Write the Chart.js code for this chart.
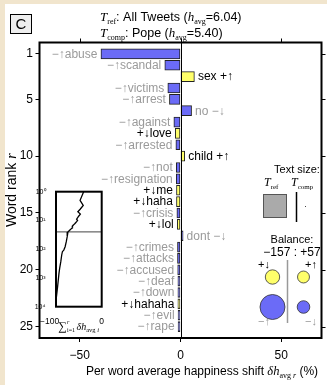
<!DOCTYPE html>
<html>
<head>
<meta charset="utf-8">
<script src="https://cdn.jsdelivr.net/npm/chart.js@4.4.1/dist/chart.umd.min.js"></script>
<style>
  html, body { margin: 0; padding: 0; }
  body { width: 327px; height: 385px; background: #f1e5cd; position: relative; overflow: hidden; }
  #panel { position: absolute; left: 5px; top: 4px; right: 0; bottom: 0; background: #fff; }
  #main { position: absolute; left: 0; top: 0; }
  #inset { position: absolute; left: 30px; top: 183px; }
</style>
</head>
<body>
<div id="panel"></div>
<canvas id="main" width="327" height="385"></canvas>
<canvas id="inset" width="85" height="157"></canvas>
<script>
// Dados
const words = ['abuse', 'scandal', 'sex', 'victims', 'arrest', 'no', 'against', 'love', 'arrested', 'child',
  'not', 'resignation', 'me', 'haha', 'crisis', 'lol', 'dont', 'crimes', 'attacks', 'accused',
  'deaf', 'down', 'hahaha', 'evil', 'rape'];
const shifts = [-39.5, -7.8, 6.9, -6.3, -5.5, 5.5, -3.3, -2.6, -2.3, 2.1,
  -2.1, -2.1, -2.0, -2.0, -1.8, -1.6, 1.3, -1.5, -1.5, -1.4,
  -1.3, -1.3, -1.3, -1.2, -1.2];
// '+' = palavra mais feliz que a média (amarelo), '-' = menos feliz (azul)
const wordKind = ['-', '-', '+', '-', '-', '-', '-', '+', '-', '+',
  '-', '-', '+', '+', '-', '+', '-', '-', '-', '-',
  '-', '-', '+', '-', '-'];
const rankTicks = [1, 5, 10, 15, 20, 25];
const shiftTicks = [-50, 0, 50];

// Inset: soma acumulada além das 25 palavras
const tailRanks = [37, 55, 82, 107, 122, 159, 272, 466, 692, 2000, 4470];
const tailCum = [-75.5, -77.5, -80, -83, -86, -87.5, -89.5, -92, -93.5, -96.5, -99];
const insetRankTicks = [1, 10, 100, 1000, 10000];
const insetShiftTicks = [-100, 0];

// Balanço: +↓, −↑, +↑, −↓
const balanceValues = [-39, -118, 27, 30];
const hRef = 6.04, hComp = 5.40;

const SANS = '"Liberation Sans", Arial, sans-serif';
const SERIF = '"Liberation Serif", "DejaVu Serif", serif';
const BLUE = '#6b6bf7';
const YELLOW = '#ffff6a';
const GRAY = '#9a9a9a';

function minus(v) {
    return v < 0 ? '\u2212' + Math.abs(v) : String(v);
}

// Desenha texto com partes em fontes diferentes (subscritos etc.)
function drawRich(ctx, x, y, parts, align) {
    let w = 0;
    parts.forEach(p => { ctx.font = p[1]; w += ctx.measureText(p[0]).width; });
    let cx = align === 'center' ? x - w / 2 : (align === 'right' ? x - w : x);
    ctx.textAlign = 'left';
    ctx.textBaseline = 'alphabetic';
    parts.forEach(p => {
        ctx.font = p[1];
        ctx.fillText(p[0], cx, y + (p[2] || 0));
        cx += ctx.measureText(p[0]).width;
    });
}

function wordLabel(i) {
    const v = shifts[i];
    if (wordKind[i] === '-') {
        return v < 0 ? '\u2212\u2191' + words[i] : words[i] + ' \u2212\u2193';
    }
    return v < 0 ? '+\u2193' + words[i] : words[i] + ' +\u2191';
}

// Moldura, traços de topo/direita e linha do zero
const framePlugin = {
    id: 'frame',
    afterDraw(chart) {
        const { ctx, chartArea: a, scales } = chart;
        ctx.save();
        ctx.strokeStyle = '#000';
        ctx.lineWidth = 1;
        const x0 = Math.round(scales.x.getPixelForValue(0)) + 0.5;
        ctx.beginPath();
        ctx.moveTo(x0, a.top);
        ctx.lineTo(x0, a.bottom);
        shiftTicks.forEach(v => {
            const px = Math.round(scales.x.getPixelForValue(v)) + 0.5;
            ctx.moveTo(px, a.top);
            ctx.lineTo(px, a.top - 4);
        });
        rankTicks.forEach(v => {
            const py = Math.round(scales.y.getPixelForValue(v)) + 0.5;
            ctx.moveTo(a.right, py);
            ctx.lineTo(a.right + 4, py);
        });
        ctx.stroke();
        ctx.lineWidth = 2;
        ctx.strokeRect(a.left, a.top, a.right - a.left, a.bottom - a.top);
        ctx.restore();
    }
};

// Rótulos das palavras nas pontas das barras
const labelPlugin = {
    id: 'wordLabels',
    afterDatasetsDraw(chart) {
        const ctx = chart.ctx;
        const meta = chart.getDatasetMeta(0);
        ctx.save();
        ctx.font = '12px ' + SANS;
        ctx.textBaseline = 'middle';
        meta.data.forEach((bar, i) => {
            ctx.fillStyle = wordKind[i] === '-' ? GRAY : '#000';
            if (shifts[i] < 0) {
                ctx.textAlign = 'right';
                ctx.fillText(wordLabel(i), bar.x - 3.5, bar.y + 0.5);
            } else {
                ctx.textAlign = 'left';
                ctx.fillText(wordLabel(i), bar.x + 3.5, bar.y + 0.5);
            }
        });
        ctx.restore();
    }
};

// Título, letra do painel e títulos dos eixos
const titlePlugin = {
    id: 'titles',
    afterDraw(chart) {
        const { ctx, chartArea: a } = chart;
        ctx.save();
        ctx.fillStyle = '#000';
        drawRich(ctx, 100, 20.5, [
            ['T', 'italic 13px ' + SERIF], ['ref', '8px ' + SERIF, 3],
            [': All Tweets (', '12.5px ' + SANS],
            ['h', 'italic 13px ' + SERIF], ['avg', '8px ' + SERIF, 3],
            ['=' + hRef.toFixed(2) + ')', '12.5px ' + SANS]
        ], 'left');
        drawRich(ctx, 100, 36.5, [
            ['T', 'italic 13px ' + SERIF], ['comp', '8px ' + SERIF, 3],
            [': Pope (', '12.5px ' + SANS],
            ['h', 'italic 13px ' + SERIF], ['avg', '8px ' + SERIF, 3],
            ['=' + hComp.toFixed(2) + ')', '12.5px ' + SANS]
        ], 'left');

        // letra do painel
        ctx.fillStyle = '#eeeeee';
        ctx.fillRect(10.5, 14.5, 21, 19);
        ctx.strokeStyle = '#000';
        ctx.lineWidth = 1;
        ctx.strokeRect(10.5, 14.5, 21, 19);
        ctx.fillStyle = '#000';
        ctx.font = '15px ' + SANS;
        ctx.textAlign = 'center';
        ctx.textBaseline = 'middle';
        ctx.fillText('C', 21, 24.5);

        // eixo y
        ctx.save();
        ctx.translate(16, (a.top + a.bottom) / 2);
        ctx.rotate(-Math.PI / 2);
        drawRich(ctx, 0, 0, [['Word rank ', '14px ' + SANS], ['r', 'italic 14px ' + SERIF]], 'center');
        ctx.restore();

        // eixo x
        drawRich(ctx, 202, 375, [
            ['Per word average happiness shift ', '12px ' + SANS],
            ['\u03B4h', 'italic 12.5px ' + SERIF],
            ['avg', '8px ' + SERIF, 3], [' r', 'italic 8px ' + SERIF, 3],
            [' (%)', '12px ' + SANS]
        ], 'center');
        ctx.restore();
    }
};

// Caixa de tamanho de texto e balanço
const keyPlugin = {
    id: 'keyPanel',
    afterDraw(chart) {
        const ctx = chart.ctx;
        ctx.save();
        ctx.fillStyle = '#000';
        ctx.font = '11px ' + SANS;
        ctx.textAlign = 'center';
        ctx.textBaseline = 'middle';
        ctx.fillText('Text size:', 297, 170);
        drawRich(ctx, 264, 186, [['T', 'italic 12px ' + SERIF], ['ref', '7px ' + SERIF, 2.5]], 'left');
        drawRich(ctx, 291, 186, [['T', 'italic 12px ' + SERIF], ['comp', '7px ' + SERIF, 2.5]], 'left');

        ctx.fillStyle = '#aaaaaa';
        ctx.fillRect(263.5, 194.5, 23, 23);
        ctx.strokeStyle = '#555';
        ctx.lineWidth = 1;
        ctx.strokeRect(263.5, 194.5, 23, 23);
        ctx.strokeStyle = '#000';
        ctx.lineWidth = 1.5;
        ctx.beginPath();
        ctx.moveTo(296.5, 192);
        ctx.lineTo(296.5, 222);
        ctx.stroke();
        ctx.fillStyle = '#444';
        ctx.fillRect(305, 206, 1, 1);

        const neg = balanceValues.filter(v => v < 0).reduce((s, v) => s + v, 0);
        const pos = balanceValues.filter(v => v > 0).reduce((s, v) => s + v, 0);
        ctx.fillStyle = '#000';
        ctx.font = '11px ' + SANS;
        ctx.textAlign = 'center';
        ctx.textBaseline = 'middle';
        ctx.fillText('Balance:', 292, 239.5);
        ctx.font = '12px ' + SANS;
        ctx.fillText(minus(neg) + ' : +' + pos, 292, 253);

        ctx.font = '11px ' + SANS;
        ctx.fillText('+\u2193', 264, 265);
        ctx.fillText('+\u2191', 311, 265);
        ctx.fillStyle = GRAY;
        ctx.fillText('\u2212\u2191', 264, 322);
        ctx.fillText('\u2212\u2193', 311, 322);

        ctx.strokeStyle = '#999';
        ctx.lineWidth = 1.5;
        ctx.beginPath();
        ctx.moveTo(287.5, 260);
        ctx.lineTo(287.5, 323);
        ctx.stroke();

        // círculos com área proporcional ao valor
        const spots = [[272.5, 277], [272.5, 307], [303.5, 277], [303.5, 307]];
        const fills = [YELLOW, BLUE, YELLOW, BLUE];
        balanceValues.forEach((v, i) => {
            const r = 1.15 * Math.sqrt(Math.abs(v));
            ctx.beginPath();
            ctx.arc(spots[i][0], spots[i][1], r, 0, Math.PI * 2);
            ctx.fillStyle = fills[i];
            ctx.fill();
            ctx.strokeStyle = '#333';
            ctx.lineWidth = 0.8;
            ctx.stroke();
        });
        ctx.restore();
    }
};

new Chart(document.getElementById('main'), {
    type: 'bar',
    data: {
        datasets: [{
            data: words.map((w, i) => ({ x: shifts[i], y: i + 1 })),
            backgroundColor: wordKind.map(k => k === '+' ? YELLOW : BLUE),
            borderColor: '#222',
            borderWidth: 1,
            borderSkipped: false,
            barThickness: 10
        }]
    },
    options: {
        indexAxis: 'y',
        responsive: false,
        animation: false,
        layout: { padding: { left: 5.5, top: 42.5, right: 5.5, bottom: 0 } },
        scales: {
            x: {
                type: 'linear', min: -70, max: 70,
                afterBuildTicks: s => { s.ticks = shiftTicks.map(v => ({ value: v })); },
                afterFit: s => { s.height = 47; },
                grid: { drawOnChartArea: false, tickLength: 4, color: '#000' },
                border: { display: false },
                ticks: { color: '#000', padding: 6, font: { family: SANS, size: 12 }, callback: v => minus(v) }
            },
            y: {
                type: 'linear', min: 0, max: 26, reverse: true, offset: false,
                afterBuildTicks: s => { s.ticks = rankTicks.map(v => ({ value: v })); },
                afterFit: s => { s.width = 34; },
                grid: { drawOnChartArea: false, offset: false, tickLength: 4, color: '#000' },
                border: { display: false },
                ticks: { color: '#000', padding: 2.5, font: { family: SANS, size: 12 } }
            }
        },
        plugins: { legend: { display: false }, tooltip: { enabled: false } }
    },
    plugins: [framePlugin, labelPlugin, titlePlugin, keyPlugin]
});

// ---------- inset com a soma acumulada ----------
const cumPoints = [];
let running = 0;
shifts.forEach((v, i) => {
    running += v;
    cumPoints.push({ x: running, y: i + 1 });
});
tailRanks.forEach((r, i) => cumPoints.push({ x: tailCum[i], y: r }));

const SUP = ['\u2070', '\u00B9', '\u00B2', '\u00B3', '\u2074'];

const insetPlugin = {
    id: 'insetFrame',
    beforeDatasetsDraw(chart) {
        const { ctx, chartArea: a, scales } = chart;
        ctx.save();
        ctx.fillStyle = '#fff';
        ctx.fillRect(a.left, a.top, a.right - a.left, a.bottom - a.top);
        const py = scales.y.getPixelForValue(words.length);
        ctx.strokeStyle = '#444';
        ctx.lineWidth = 1;
        ctx.beginPath();
        ctx.moveTo(a.left, py);
        ctx.lineTo(a.right, py);
        ctx.stroke();
        ctx.restore();
    },
    afterDraw(chart) {
        const { ctx, chartArea: a } = chart;
        ctx.save();
        ctx.strokeStyle = '#000';
        ctx.lineWidth = 2;
        ctx.strokeRect(a.left, a.top, a.right - a.left, a.bottom - a.top);
        // título do eixo x do inset
        ctx.fillStyle = '#000';
        const cx = 28, cy = 147;
        ctx.font = '12px ' + SERIF;
        ctx.textAlign = 'left';
        ctx.textBaseline = 'alphabetic';
        ctx.fillText('\u2211', cx, cy);
        const sw = ctx.measureText('\u2211').width;
        ctx.font = 'italic 6px ' + SERIF;
        ctx.fillText('r', cx + sw + 0.5, cy - 6);
        ctx.font = '6px ' + SERIF;
        ctx.fillText('i=1', cx + sw + 0.5, cy + 2);
        drawRich(ctx, cx + sw + 10, cy, [
            ['\u03B4h', 'italic 10px ' + SERIF],
            ['avg', '6.5px ' + SERIF, 2], [' i', 'italic 6.5px ' + SERIF, 2]
        ], 'left');
        ctx.restore();
    }
};

new Chart(document.getElementById('inset'), {
    type: 'scatter',
    data: {
        datasets: [{
            data: cumPoints,
            showLine: true,
            borderColor: '#000',
            borderWidth: 1.3,
            pointRadius: 0
        }]
    },
    options: {
        responsive: false,
        animation: false,
        layout: { padding: { left: 0, top: 8.7, right: 13.3, bottom: 0 } },
        scales: {
            x: {
                type: 'linear', min: -100, max: 0,
                afterBuildTicks: s => { s.ticks = insetShiftTicks.map(v => ({ value: v })); },
                afterFit: s => { s.height = 33.3; },
                grid: { display: false },
                border: { display: false },
                ticks: {
                    color: '#000', padding: 2, maxRotation: 0,
                    font: { family: SANS, size: 8.5 },
                    callback: v => v < 0 ? minus(v) + '\u2002\u2002\u2002' : minus(v)
                }
            },
            y: {
                type: 'logarithmic', min: 1, max: 10000, reverse: true,
                afterBuildTicks: s => { s.ticks = insetRankTicks.map(v => ({ value: v })); },
                afterFit: s => { s.width = 26; },
                grid: { display: false },
                border: { display: false },
                ticks: {
                    color: '#000', padding: 2.5,
                    font: { family: SANS, size: 7 },
                    callback: v => '10' + SUP[Math.round(Math.log10(v))]
                }
            }
        },
        plugins: { legend: { display: false }, tooltip: { enabled: false } }
    },
    plugins: [insetPlugin]
});
</script>
</body>
</html>
